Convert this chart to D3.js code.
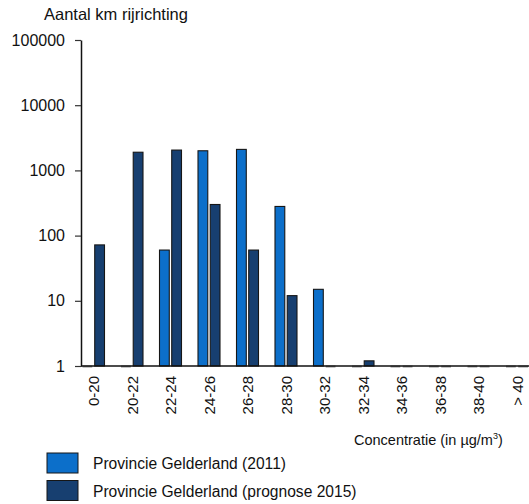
<!DOCTYPE html>
<html>
<head>
<meta charset="utf-8">
<script src="https://cdn.jsdelivr.net/npm/d3@7"></script>
<style>
  html, body { margin: 0; padding: 0; background: #ffffff; }
  svg { display: block; font-family: "Liberation Sans", Arial, sans-serif; }
</style>
</head>
<body>
<svg id="chart" width="529" height="504"></svg>
<script>
// Concentration classes (µg/m³)
const categories = ['0-20', '20-22', '22-24', '24-26', '26-28', '28-30', '30-32', '32-34', '34-36', '36-38', '38-40', '> 40'];
// Km of driving direction per class
const values2011 = [1, 1, 60, 2000, 2100, 280, 15, 1, 1, 1, 1, 1];
const values2015 = [72, 1900, 2050, 300, 60, 12, 1, 1.2, 1, 1, 1, 1];
const seriesNames = ['Provincie Gelderland (2011)', 'Provincie Gelderland (prognose 2015)'];
const seriesColors = ['#0c6fca', '#173f70'];
const yTicks = [1, 10, 100, 1000, 10000, 100000];

const svg = d3.select('#chart');

const y = d3.scaleLog().domain([1, 100000]).range([366, 40]);
const x = d3.scaleBand().domain(categories).range([74.75, 74.75 + 12 * 38.5]).paddingInner(0);
const x1 = d3.scaleBand().domain([0, 1]).range([7.75, 29.75]).paddingInner(0.2);

// Y axis
const yAxis = svg.append('g')
  .attr('transform', 'translate(81,0)')
  .call(d3.axisLeft(y).tickValues(yTicks).tickFormat(d3.format('d')).tickSize(6).tickSizeOuter(0).tickPadding(10));
yAxis.select('.domain').attr('stroke', '#111').attr('stroke-width', 1.5);
yAxis.selectAll('.tick line').attr('stroke', '#333').attr('stroke-width', 1.2);
yAxis.selectAll('.tick text').attr('font-size', 16).attr('fill', '#111')
  .attr('font-family', '"Liberation Sans", Arial, sans-serif');

// Title of the value axis
svg.append('text')
  .attr('x', 44).attr('y', 20)
  .attr('font-size', 16.5).attr('fill', '#111')
  .text('Aantal km rijrichting');

// Bars
const rows = categories.map((c, i) => ({ cat: c, vals: [values2011[i], values2015[i]] }));
const groups = svg.append('g').selectAll('g.grp')
  .data(rows).join('g')
  .attr('class', 'grp')
  .attr('transform', d => `translate(${x(d.cat)},0)`);

groups.selectAll('rect')
  .data(d => d.vals.map((v, k) => ({ v, k })).filter(e => y(1) - y(e.v) >= 0.5))
  .join('rect')
  .attr('x', e => x1(e.k))
  .attr('width', x1.bandwidth())
  .attr('y', e => y(e.v))
  .attr('height', e => y(1) - y(e.v))
  .attr('fill', e => seriesColors[e.k])
  .attr('stroke', '#161616')
  .attr('stroke-width', 1.1);

// Empty classes show as a short stub on the base line
groups.selectAll('line.stub')
  .data(d => d.vals.map((v, k) => ({ v, k })).filter(e => y(1) - y(e.v) < 0.5))
  .join('line')
  .attr('class', 'stub')
  .attr('x1', e => x1(e.k))
  .attr('x2', e => x1(e.k) + x1.bandwidth())
  .attr('y1', y(1) + 0.5).attr('y2', y(1) + 0.5)
  .attr('stroke', '#8a8a8a')
  .attr('stroke-width', 2);

// X axis
const xAxis = svg.append('g')
  .attr('transform', `translate(0,${y(1)})`)
  .call(d3.axisBottom(x).tickSize(0).tickPadding(0));
xAxis.select('.domain').remove();
xAxis.selectAll('.tick text')
  .attr('font-size', 15).attr('fill', '#111')
  .attr('font-family', '"Liberation Sans", Arial, sans-serif')
  .attr('text-anchor', 'end')
  .attr('transform', 'rotate(-90)')
  .attr('x', -10).attr('y', 0).attr('dy', '0.35em');

svg.append('line')
  .attr('x1', 81).attr('x2', 529)
  .attr('y1', y(1)).attr('y2', y(1))
  .attr('stroke', '#111').attr('stroke-width', 1.3);

// Title of the category axis
const xt = svg.append('text')
  .attr('x', 354).attr('y', 445)
  .attr('font-size', 14.5).attr('fill', '#111');
xt.append('tspan').text('Concentratie (in µg/m');
xt.append('tspan').attr('font-size', 9).attr('dy', -6).text('3');
xt.append('tspan').attr('dy', 6).text(')');

// Legend
const legend = svg.append('g');
seriesNames.forEach((name, k) => {
  const ly = 453 + k * 27.5;
  legend.append('rect')
    .attr('x', 47).attr('y', ly)
    .attr('width', 31).attr('height', 20)
    .attr('fill', seriesColors[k])
    .attr('stroke', '#161616').attr('stroke-width', 1);
  legend.append('text')
    .attr('x', 93).attr('y', ly + 16)
    .attr('font-size', 15.6).attr('fill', '#111')
    .text(name);
});
</script>
</body>
</html>
